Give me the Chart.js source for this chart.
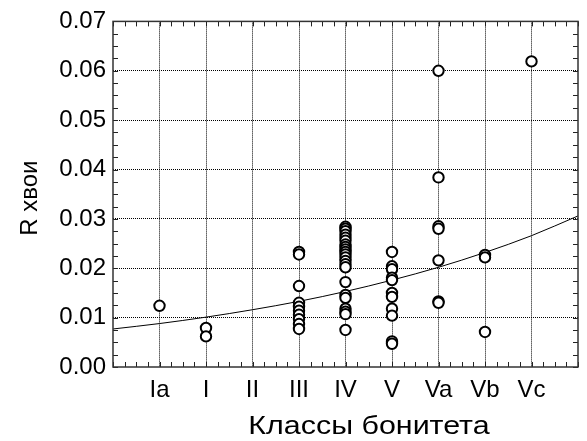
<!DOCTYPE html>
<html>
<head>
<meta charset="utf-8">
<script src="https://cdn.jsdelivr.net/npm/chart.js@4"></script>
<style>
  html, body { margin: 0; padding: 0; background: #fff; }
  #wrap { width: 587px; height: 441px; position: relative; }
</style>
</head>
<body>
<div id="wrap"><canvas id="c" width="587" height="441"></canvas></div>
<script>
// Site quality classes (x positions 1..9)
const classLabels = ['Ia', 'I', 'II', 'III', 'IV', 'V', 'Va', 'Vb', 'Vc'];

// R values of needles per class
const valuesIa = [0.0124];
const valuesI = [0.0079, 0.0062];
const valuesII = [];
const valuesIII = [0.0233, 0.0228, 0.0164, 0.0130, 0.0122, 0.0114, 0.0106, 0.0097, 0.0087, 0.0077];
const valuesIV = [0.0284, 0.0280, 0.0275, 0.0268, 0.0262, 0.0256, 0.0248, 0.0243, 0.0238, 0.0233,
                  0.0228, 0.0222, 0.0215, 0.0208, 0.0202, 0.0172, 0.0146, 0.0140, 0.0118, 0.0112,
                  0.0107, 0.0075];
const valuesV = [0.0233, 0.0204, 0.0198, 0.0181, 0.0176, 0.0150, 0.0142, 0.0118, 0.0104, 0.0052, 0.0047];
const valuesVa = [0.0600, 0.0384, 0.0285, 0.0280, 0.0216, 0.0133, 0.0130];
const valuesVb = [0.0227, 0.0222, 0.0071];
const valuesVc = [0.0619];

// Fitted trend curve, sampled at each class position
const trendX = [0, 1, 2, 3, 4, 5, 6, 7, 8, 9, 10];
const trendY = [0.0077, 0.0088, 0.0101, 0.0116, 0.0133, 0.0153, 0.0176, 0.0202, 0.0232, 0.0266, 0.0306];

const yTickValues = [0, 0.01, 0.02, 0.03, 0.04, 0.05, 0.06, 0.07];

const xTitle = 'Классы бонитета';
const yTitle = 'R хвои';

const groups = [valuesIa, valuesI, valuesII, valuesIII, valuesIV, valuesV, valuesVa, valuesVb, valuesVc];
const scatterPoints = [];
groups.forEach((vals, i) => vals.forEach(v => scatterPoints.push({ x: i + 1, y: v })));
const trendPoints = trendX.map((x, i) => ({ x, y: trendY[i] }));

const FONT = 'Arial, "Liberation Sans", sans-serif';

// Frame, inward minor ticks and axis titles
const framePlugin = {
  id: 'frame',
  afterDraw(chart) {
    const { ctx, chartArea: a, scales } = chart;
    const xs = scales.x, ys = scales.y;
    ctx.save();
    ctx.strokeStyle = '#222';
    ctx.lineWidth = 1;
    const tl = 5;
    ctx.beginPath();
    for (let k = 0; k <= 40; k++) {
      const px = Math.round(xs.getPixelForValue(k * 0.25)) + 0.5;
      ctx.moveTo(px, a.bottom); ctx.lineTo(px, a.bottom - tl);
      ctx.moveTo(px, a.top); ctx.lineTo(px, a.top + tl);
    }
    for (let k = 0; k <= 28; k++) {
      const py = Math.round(ys.getPixelForValue(k * 0.0025)) + 0.5;
      ctx.moveTo(a.left, py); ctx.lineTo(a.left + tl, py);
      ctx.moveTo(a.right, py); ctx.lineTo(a.right - tl, py);
    }
    ctx.stroke();
    ctx.lineWidth = 1.5;
    ctx.strokeStyle = '#333';
    ctx.strokeRect(a.left, a.top, a.right - a.left, a.bottom - a.top);

    ctx.fillStyle = '#000';
    ctx.textAlign = 'center';
    ctx.textBaseline = 'alphabetic';
    // x-axis title, slightly widened
    ctx.save();
    ctx.font = '26px ' + FONT;
    ctx.translate(369, 434);
    ctx.scale(1.17, 1);
    ctx.fillText(xTitle, 0, 0);
    ctx.restore();
    // y-axis title, rotated
    ctx.font = '24px ' + FONT;
    ctx.translate(37, (a.top + a.bottom) / 2 + 4);
    ctx.rotate(-Math.PI / 2);
    ctx.fillText(yTitle, 0, 0);
    ctx.restore();
  }
};

const gridColor = ctx => {
  const v = ctx.tick ? ctx.tick.value : null;
  return (v === 0 || v === 10 || Math.abs(v - 0.07) < 1e-9) ? 'rgba(0,0,0,0)' : '#000';
};

new Chart(document.getElementById('c'), {
  data: {
    datasets: [
      {
        type: 'scatter',
        data: scatterPoints,
        pointStyle: 'circle',
        pointRadius: 5.2,
        pointHoverRadius: 5.2,
        pointBorderWidth: 2,
        pointBorderColor: '#000',
        pointBackgroundColor: '#fff',
        order: 1
      },
      {
        type: 'line',
        data: trendPoints,
        borderColor: '#000',
        borderWidth: 1,
        pointRadius: 0,
        cubicInterpolationMode: 'monotone',
        fill: false,
        order: 2
      }
    ]
  },
  options: {
    responsive: false,
    animation: false,
    events: [],
    layout: { padding: { top: 20, right: 1, left: 0, bottom: 0 } },
    plugins: { legend: { display: false }, tooltip: { enabled: false } },
    scales: {
      x: {
        type: 'linear',
        min: 0, max: 10,
        afterFit(s) { s.height = 74; },
        afterBuildTicks(s) { s.ticks = trendX.map(v => ({ value: v })); },
        ticks: {
          autoSkip: false,
          maxRotation: 0,
          padding: 9,
          color: '#000',
          font: { family: FONT, size: 24 },
          callback: v => (v >= 1 && v <= 9) ? classLabels[v - 1] : ''
        },
        grid: { color: gridColor, lineWidth: 1, drawTicks: false },
        border: { display: false, dash: [1, 1] }
      },
      y: {
        type: 'linear',
        min: 0, max: 0.07,
        afterFit(s) { s.width = 113; },
        afterBuildTicks(s) { s.ticks = yTickValues.map(v => ({ value: v })); },
        ticks: {
          padding: 7,
          color: '#000',
          font: { family: FONT, size: 24 },
          callback: v => v.toFixed(2)
        },
        grid: { color: gridColor, lineWidth: 1, drawTicks: false },
        border: { display: false, dash: [1, 1] }
      }
    }
  },
  plugins: [framePlugin]
});
</script>
</body>
</html>
